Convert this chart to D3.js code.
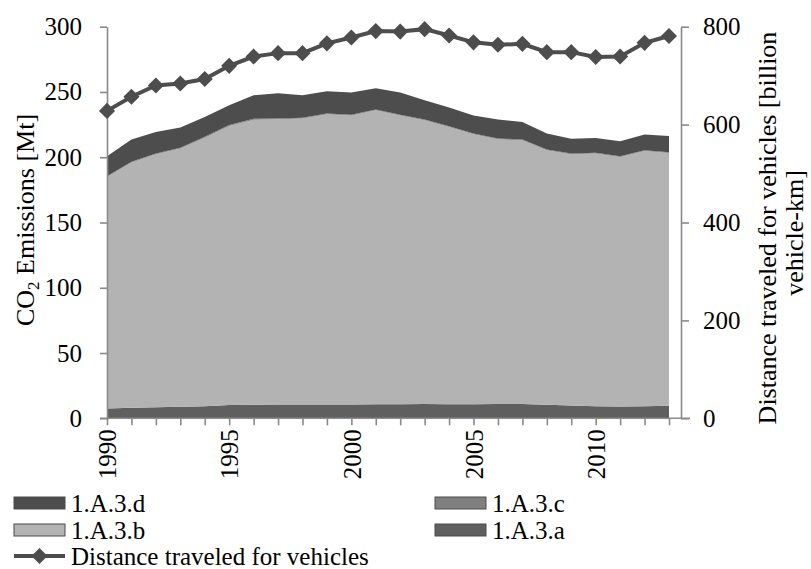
<!DOCTYPE html>
<html>
<head>
<meta charset="utf-8">
<script src="https://cdn.jsdelivr.net/npm/d3@7"></script>
<style>
  body { margin: 0; background: #fff; }
  svg { display: block; font-family: "Liberation Serif", "Times New Roman", serif; }
</style>
</head>
<body>
<svg id="chart" width="811" height="569"></svg>
<script>
// Road/transport CO2 emissions by sub-sector and distance travelled, 1990–2013
const years = d3.range(1990, 2014);
const sectorA = [7.6, 8.0, 8.4, 8.8, 9.2, 10.2, 10.3, 10.6, 10.6, 10.5, 10.6, 10.7, 10.8, 10.9, 10.7, 10.7, 11.0, 10.9, 10.3, 9.8, 9.2, 9.0, 9.3, 9.6];
const sectorB = [177.3, 187.9, 193.9, 197.8, 205.8, 213.8, 218.5, 218.5, 219.0, 222.4, 221.3, 225.3, 221.1, 217.4, 212.5, 206.9, 202.8, 202.1, 195.1, 192.5, 193.6, 191.2, 195.5, 193.7];
const sectorC = [0.6, 0.6, 0.6, 0.6, 0.6, 0.6, 0.6, 0.6, 0.6, 0.6, 0.6, 0.6, 0.6, 0.6, 0.6, 0.6, 0.6, 0.6, 0.6, 0.6, 0.6, 0.6, 0.6, 0.6];
const sectorD = [15.3, 17.1, 16.5, 15.6, 15.3, 15.3, 18.1, 19.4, 17.3, 17.1, 17.1, 16.3, 17.0, 14.8, 14.3, 13.8, 14.5, 13.4, 12.2, 11.3, 11.3, 11.4, 12.0, 12.3];
const distance = [628, 657, 680, 684, 693, 720, 739, 746, 746, 766, 778, 791, 790, 795, 782, 768, 763, 765, 748, 748, 738, 739, 767, 781];
const seriesNames = ["1.A.3.a", "1.A.3.b", "1.A.3.c", "1.A.3.d"];
const seriesColors = ["#5f5f5f", "#b3b3b3", "#808080", "#4d4d4d"];
const leftTicks = [0, 50, 100, 150, 200, 250, 300];
const rightTicks = [0, 200, 400, 600, 800];
const labelYears = [1990, 1995, 2000, 2005, 2010];

const rows = years.map((y, i) => ({
  year: y, "1.A.3.a": sectorA[i], "1.A.3.b": sectorB[i], "1.A.3.c": sectorC[i], "1.A.3.d": sectorD[i], dist: distance[i]
}));

const svg = d3.select("#chart");
const axisColor = "#8a8a8a";
const plot = { left: 107, right: 669, top: 26.7, bottom: 418.3, rightAxis: 681 };

const x = d3.scalePoint().domain(years).range([plot.left, plot.right]);
const y = d3.scaleLinear().domain([0, 300]).range([plot.bottom, plot.top]);
const yR = d3.scaleLinear().domain([0, 800]).range([plot.bottom, plot.top]);

// stacked areas
const stack = d3.stack().keys(seriesNames);
const layers = stack(rows);
const area = d3.area()
  .x(d => x(d.data.year))
  .y0(d => y(d[0]))
  .y1(d => y(d[1]));
svg.append("g").selectAll("path").data(layers).join("path")
  .attr("d", area)
  .attr("fill", (d, i) => seriesColors[i]);

// left axis
const gl = svg.append("g").attr("transform", `translate(${plot.left},0)`)
  .call(d3.axisLeft(y).tickValues(leftTicks).tickSize(7).tickSizeOuter(0).tickPadding(18));
// right axis
const gr = svg.append("g").attr("transform", `translate(${plot.rightAxis},0)`)
  .call(d3.axisRight(yR).tickValues(rightTicks).tickSize(8).tickSizeOuter(0).tickPadding(14));
// bottom axis
const gb = svg.append("g").attr("transform", `translate(0,${plot.bottom})`)
  .call(d3.axisBottom(x).tickValues(years).tickSize(7).tickSizeOuter(0)
    .tickFormat(d => labelYears.includes(d) ? String(d) : ""));
gb.select(".domain").remove();
gb.append("line")
  .attr("x1", plot.left - 7).attr("x2", plot.rightAxis + 9)
  .attr("stroke", axisColor).attr("stroke-width", 1.6);
gb.selectAll(".tick text")
  .attr("transform", "rotate(-90)")
  .attr("text-anchor", "end")
  .attr("x", -11).attr("y", 0).attr("dy", "0.35em");

[gl, gr, gb].forEach(g => {
  g.selectAll(".domain").attr("stroke", axisColor).attr("stroke-width", 1.6);
  g.selectAll(".tick line").attr("stroke", axisColor).attr("stroke-width", 1.6);
  g.selectAll(".tick text").attr("fill", "#000").style("font-size", "25px")
    .style("font-family", "Liberation Serif, Times New Roman, serif");
});

// distance line with diamond markers
const line = d3.line().x(d => x(d.year)).y(d => yR(d.dist));
svg.append("path").datum(rows)
  .attr("d", line).attr("fill", "none")
  .attr("stroke", "#4d4d4d").attr("stroke-width", 4);
const diamond = d3.symbol().type(d3.symbolDiamond2).size(165);
svg.append("g").selectAll("path").data(rows).join("path")
  .attr("transform", d => `translate(${x(d.year)},${yR(d.dist)})`)
  .attr("d", diamond)
  .attr("fill", "#4d4d4d");

// axis titles
const lt = svg.append("text")
  .attr("transform", "translate(34,220) rotate(-90)")
  .attr("text-anchor", "middle").style("font-size", "26px");
lt.append("tspan").text("CO");
lt.append("tspan").text("2").attr("dy", "0.3em").style("font-size", "17px");
lt.append("tspan").text(" Emissions [Mt]").attr("dy", "-0.2em");

svg.append("text")
  .attr("transform", "translate(776,228) rotate(-90)")
  .attr("text-anchor", "middle").style("font-size", "26px")
  .text("Distance traveled for vehicles [billion");
svg.append("text")
  .attr("transform", "translate(803,233) rotate(-90)")
  .attr("text-anchor", "middle").style("font-size", "26px")
  .text("vehicle-km]");

// legend
const legendItems = [
  { name: "1.A.3.d", color: seriesColors[3], col: 0, row: 0 },
  { name: "1.A.3.c", color: seriesColors[2], col: 1, row: 0 },
  { name: "1.A.3.b", color: seriesColors[1], col: 0, row: 1 },
  { name: "1.A.3.a", color: seriesColors[0], col: 1, row: 1 }
];
const colX = [14, 435];
const rowY = [503, 530, 556];
const lg = svg.append("g");
legendItems.forEach(it => {
  const gx = colX[it.col], gy = rowY[it.row];
  lg.append("rect").attr("x", gx).attr("y", gy - 6).attr("width", 51).attr("height", 12)
    .attr("fill", it.color).attr("stroke", "#4d4d4d").attr("stroke-width", 1);
  lg.append("text").attr("x", gx + 57).attr("y", gy).attr("dy", "0.35em")
    .style("font-size", "25px").text(it.name);
});
lg.append("line").attr("x1", colX[0]).attr("x2", colX[0] + 51)
  .attr("y1", rowY[2]).attr("y2", rowY[2]).attr("stroke", "#4d4d4d").attr("stroke-width", 4);
lg.append("path").attr("transform", `translate(${colX[0] + 25.5},${rowY[2]})`)
  .attr("d", diamond).attr("fill", "#4d4d4d");
lg.append("text").attr("x", colX[0] + 57).attr("y", rowY[2]).attr("dy", "0.35em")
  .style("font-size", "25px").text("Distance traveled for vehicles");
</script>
</body>
</html>
